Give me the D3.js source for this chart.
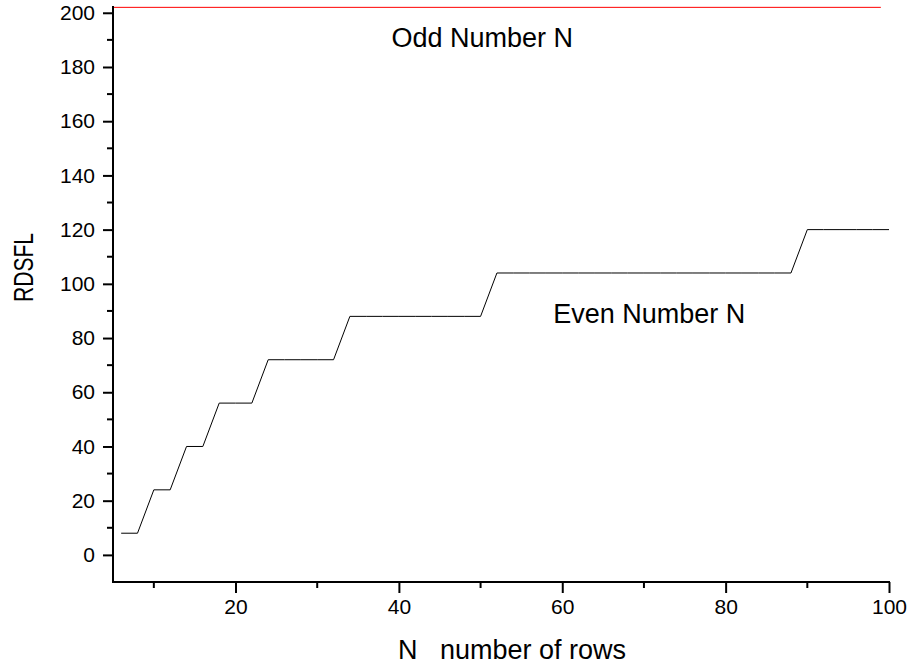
<!DOCTYPE html>
<html>
<head>
<meta charset="utf-8">
<script src="https://cdn.jsdelivr.net/npm/d3@7"></script>
<style>
  body { margin: 0; background: #fff; }
  text { font-family: "Liberation Sans", Arial, sans-serif; fill: #000; }
</style>
</head>
<body>
<div id="chart"></div>
<script>
////////////////////////////////////////////////////////////
//////////////////////// Data //////////////////////////////
////////////////////////////////////////////////////////////
// even N (black steps)
var evenN   = [6, 8, 10, 12, 14, 16, 18, 20, 22, 24, 26, 28, 30, 32, 34, 36, 38, 40, 42, 44, 46, 48, 50,
               52, 54, 56, 58, 60, 62, 64, 66, 68, 70, 72, 74, 76, 78, 80, 82, 84, 86, 88,
               90, 92, 94, 96, 98, 100];
var evenVal = [8, 8, 24, 24, 40, 40, 56, 56, 56, 72, 72, 72, 72, 72, 88, 88, 88, 88, 88, 88, 88, 88, 88,
               104, 104, 104, 104, 104, 104, 104, 104, 104, 104, 104, 104, 104, 104, 104, 104, 104, 104, 104,
               120, 120, 120, 120, 120, 120];
// odd N (red line, flat at the top)
var oddN   = [5, 99];
var oddVal = [202, 202];

var yMajor = [0, 20, 40, 60, 80, 100, 120, 140, 160, 180, 200];
var yMinor = [10, 30, 50, 70, 90, 110, 130, 150, 170, 190];
var xMajor = [20, 40, 60, 80, 100];
var xMinor = [10, 30, 50, 70, 90];

var labelText = ["Odd Number N", "Even Number N"];
var labelX    = [39.1, 58.9];
var labelY    = [187.3, 85.4];

////////////////////////////////////////////////////////////
//////////////////////// Set-Up ////////////////////////////
////////////////////////////////////////////////////////////
var width = 912, height = 668;
var plotLeft = 113, plotRight = 889, plotTop = 6, plotBottom = 582;

var svg = d3.select("#chart").append("svg")
            .attr("width", width)
            .attr("height", height);

var x = d3.scaleLinear().domain([5, 100]).range([plotLeft, plotRight]);
var y = d3.scaleLinear().domain([-10, 202.5]).range([plotBottom, plotTop]);

// Lines
var line = d3.line()
             .x(function(d) { return x(d[0]); })
             .y(function(d) { return y(d[1]); });

svg.append("path")
   .datum(evenN.map(function(n, i) { return [n, evenVal[i]]; }))
   .attr("d", line)
   .style("fill", "none")
   .style("stroke", "#000")
   .style("stroke-width", 1);

svg.append("path")
   .datum(oddN.map(function(n, i) { return [n, oddVal[i]]; }))
   .attr("d", line)
   .style("fill", "none")
   .style("stroke", "#ff0000")
   .style("stroke-width", 1);

// Y axis
var yAxis = svg.append("g").attr("transform", "translate(" + plotLeft + ",0)");
yAxis.call(d3.axisLeft(y).tickValues(yMajor).tickSize(10).tickPadding(8).tickFormat(d3.format("d")));
yAxis.selectAll(".minor")
     .data(yMinor)
     .enter().append("line")
     .attr("class", "minor")
     .attr("x1", -6).attr("x2", 0)
     .attr("y1", function(d) { return y(d); })
     .attr("y2", function(d) { return y(d); })
     .style("stroke", "#000").style("stroke-width", 2);

// X axis
var xAxis = svg.append("g").attr("transform", "translate(0," + plotBottom + ")");
xAxis.call(d3.axisBottom(x).tickValues(xMajor).tickSize(11).tickPadding(6).tickFormat(d3.format("d")));
xAxis.selectAll(".minor")
     .data(xMinor)
     .enter().append("line")
     .attr("class", "minor")
     .attr("y1", 0).attr("y2", 6)
     .attr("x1", function(d) { return x(d); })
     .attr("x2", function(d) { return x(d); })
     .style("stroke", "#000").style("stroke-width", 2);

svg.selectAll(".domain").remove();
yAxis.attr("font-size", 21).attr("font-family", "'Liberation Sans', Arial, sans-serif");
xAxis.attr("font-size", 21).attr("font-family", "'Liberation Sans', Arial, sans-serif");
svg.selectAll(".tick line").style("stroke", "#000").style("stroke-width", 2);
svg.selectAll(".tick text").style("font-size", "21px");

// axis lines
svg.append("line")
   .attr("x1", plotLeft).attr("x2", plotLeft)
   .attr("y1", plotTop).attr("y2", plotBottom + 1)
   .style("stroke", "#000").style("stroke-width", 2);
svg.append("line")
   .attr("x1", plotLeft - 1).attr("x2", plotRight + 1)
   .attr("y1", plotBottom).attr("y2", plotBottom)
   .style("stroke", "#000").style("stroke-width", 2);

// Axis titles
svg.append("text")
   .attr("x", 398)
   .attr("y", 659)
   .attr("xml:space", "preserve")
   .style("white-space", "pre")
   .style("font-size", "27px")
   .text("N   number of rows");

svg.append("text")
   .attr("transform", "translate(33,302) rotate(-90)")
   .attr("textLength", 69)
   .attr("lengthAdjust", "spacingAndGlyphs")
   .style("font-size", "27px")
   .text("RDSFL");

// Annotations
svg.selectAll(".note")
   .data(labelText)
   .enter().append("text")
   .attr("class", "note")
   .attr("x", function(d, i) { return x(labelX[i]); })
   .attr("y", function(d, i) { return y(labelY[i]); })
   .style("font-size", "27px")
   .text(function(d) { return d; });
</script>
</body>
</html>
